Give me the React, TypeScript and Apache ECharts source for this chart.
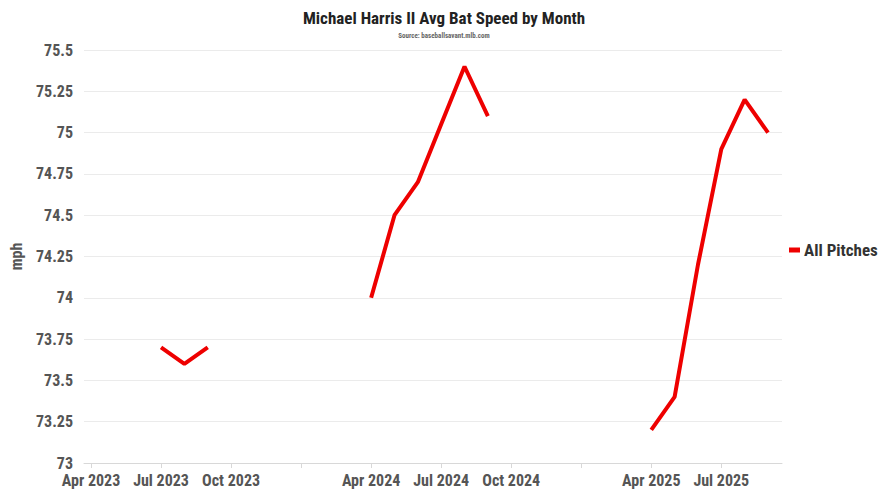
import React, { useEffect, useRef } from "react";
import * as echarts from "echarts";

const seriesName = "All Pitches";
const months2023 = ["2023-07", "2023-08", "2023-09"];
const values2023 = [73.7, 73.6, 73.7];
const months2024 = ["2024-04", "2024-05", "2024-06", "2024-07", "2024-08", "2024-09"];
const values2024 = [74.0, 74.5, 74.7, 75.05, 75.4, 75.1];
const months2025 = ["2025-04", "2025-05", "2025-06", "2025-07", "2025-08", "2025-09"];
const values2025 = [73.2, 73.4, 74.2, 74.9, 75.2, 75.0];

const xTickMonths = ["2023-04", "2023-07", "2023-10", "2024-01", "2024-04", "2024-07", "2024-10", "2025-01", "2025-04", "2025-07"];
const xLabelMonths = ["2023-04", "2023-07", "2023-10", "2024-04", "2024-07", "2024-10", "2025-04", "2025-07"];
const xLabelTexts = ["Apr 2023", "Jul 2023", "Oct 2023", "Apr 2024", "Jul 2024", "Oct 2024", "Apr 2025", "Jul 2025"];

const yMin = 73;
const yMax = 75.5;
const yStep = 0.25;

const monthIndex = (m: string) => {
  const [y, mo] = m.split("-").map(Number);
  return (y - 2023) * 12 + (mo - 1);
};

const FONT = "'Roboto Condensed', 'DejaVu Sans Condensed', 'Liberation Sans Narrow', Roboto, sans-serif";

export default function App() {
  const ref = useRef<HTMLDivElement>(null);
  useEffect(() => {
    if (!ref.current) return;
    const chart = echarts.init(ref.current, null, { renderer: "svg" });
    const seg = (ms: string[], vs: number[]) => ms.map((m, i) => [monthIndex(m), vs[i]]);
    const data: any[] = [
      ...seg(months2023, values2023),
      [monthIndex("2023-12"), null],
      ...seg(months2024, values2024),
      [monthIndex("2024-12"), null],
      ...seg(months2025, values2025),
    ];
    const labelMap: Record<number, string> = {};
    xLabelMonths.forEach((m, i) => (labelMap[monthIndex(m)] = xLabelTexts[i]));

    chart.setOption({
      animation: false,
      backgroundColor: "#ffffff",
      title: {
        text: "Michael Harris II Avg Bat Speed by Month",
        subtext: "Source: baseballsavant.mlb.com",
        left: "center",
        top: 4,
        itemGap: 6,
        textStyle: { fontFamily: FONT, fontWeight: "bold", fontSize: 17, color: "#222" },
        subtextStyle: { fontFamily: FONT, fontWeight: "bold", fontSize: 7, color: "#666" },
      },
      legend: {
        orient: "vertical",
        left: 784,
        top: "middle",
        icon: "rect",
        itemWidth: 11,
        itemHeight: 5,
        itemGap: 5,
        textStyle: { fontFamily: FONT, fontWeight: "bold", fontSize: 17, color: "#333", padding: [0, 0, 0, -1] },
        data: [seriesName],
      },
      grid: { left: 83, right: 106, top: 50, bottom: 37 },
      xAxis: {
        type: "value",
        min: 2.7,
        max: 32.6,
        splitLine: { show: false },
        axisLine: { show: true, lineStyle: { color: "#d8d8d8" } },
        axisTick: {
          show: true,
          length: 5,
          lineStyle: { color: "#d8d8d8" },
          customValues: xTickMonths.map(monthIndex),
        },
        axisLabel: {
          customValues: xLabelMonths.map(monthIndex),
          formatter: (v: number) => labelMap[Math.round(v)] ?? "",
          margin: 9,
          fontFamily: FONT,
          fontWeight: "bold",
          fontSize: 16,
          color: "#555",
        },
      },
      yAxis: {
        type: "value",
        min: yMin,
        max: yMax,
        interval: yStep,
        name: "mph",
        nameLocation: "middle",
        nameGap: 60,
        nameTextStyle: { fontFamily: FONT, fontWeight: "bold", fontSize: 16, color: "#555" },
        axisLine: { show: false },
        axisTick: { show: false },
        splitLine: { lineStyle: { color: "#ebebeb" } },
        axisLabel: {
          margin: 11,
          fontFamily: FONT,
          fontWeight: "bold",
          fontSize: 16,
          color: "#555",
        },
      },
      series: [
        {
          name: seriesName,
          type: "line",
          data,
          showSymbol: false,
          symbol: "none",
          connectNulls: false,
          lineStyle: { color: "#ee0000", width: 4 },
          itemStyle: { color: "#ee0000" },
        },
      ],
    });
    return () => chart.dispose();
  }, []);
  return <div ref={ref} style={{ width: 888, height: 500, position: "absolute", left: 0, top: 0 }} />;
}
